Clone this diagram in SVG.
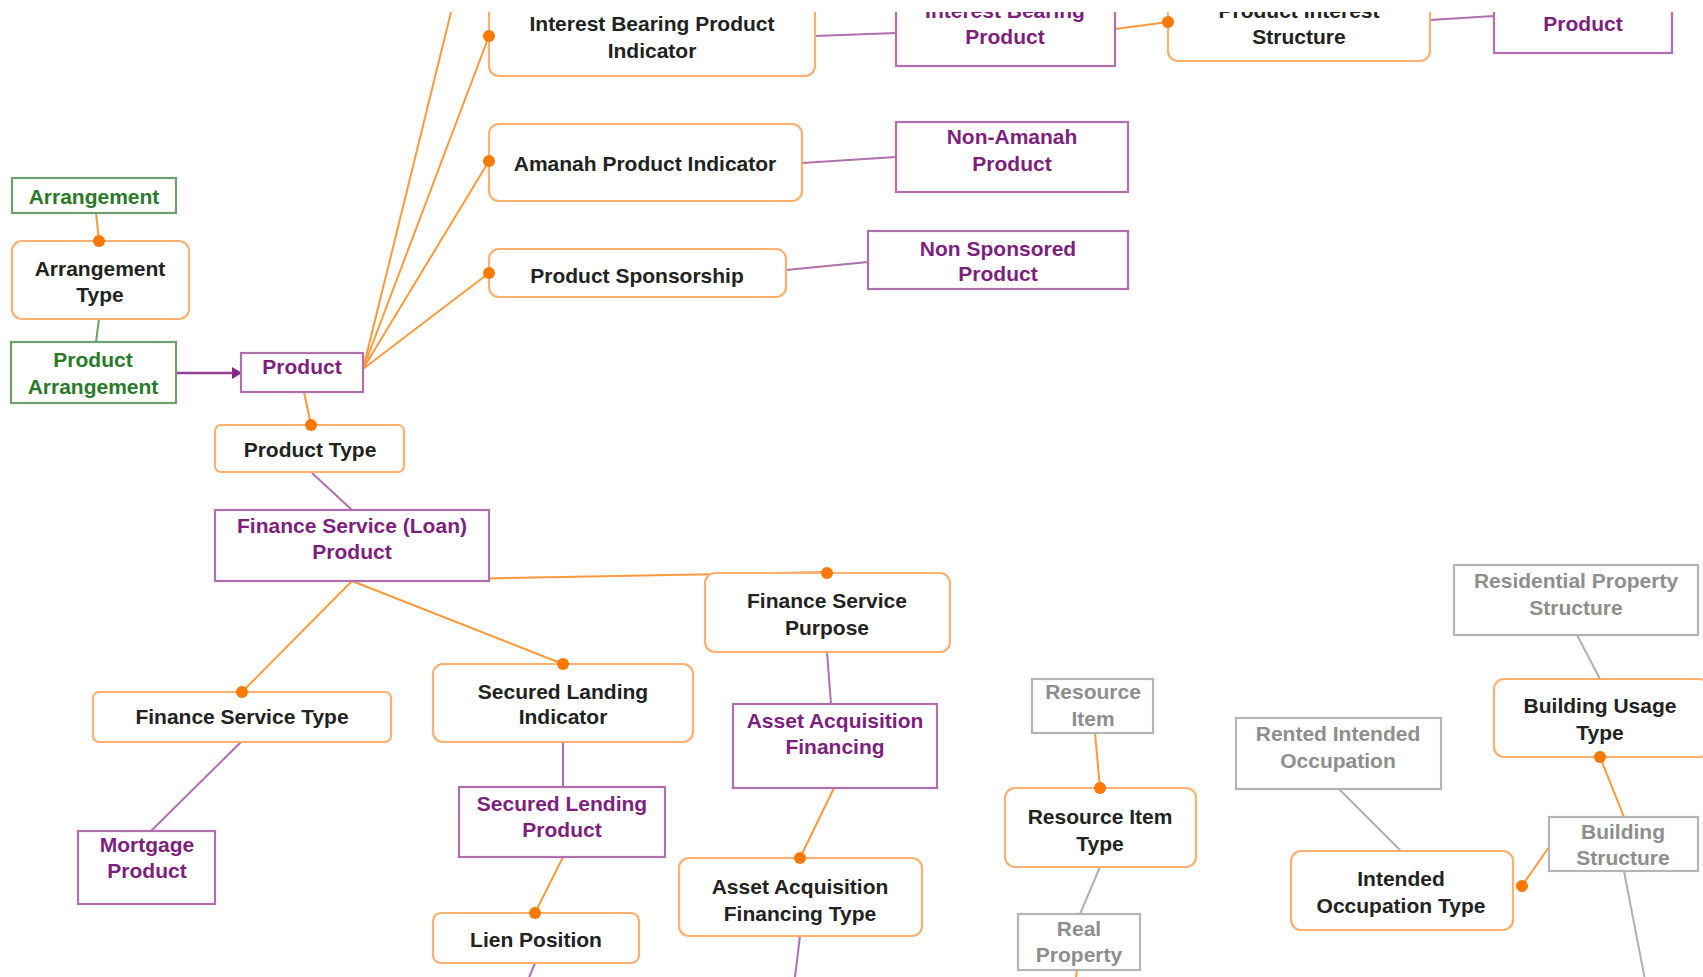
<svg xmlns="http://www.w3.org/2000/svg" width="1703" height="977" viewBox="0 0 1703 977">
  <style>
    text { font-family: "Liberation Sans", Arial, sans-serif; font-size: 21px; font-weight: bold; text-anchor: middle; }
    .t-black { fill: #222222; }
    .t-purple { fill: #7e1f7e; }
    .t-green { fill: #2a7a2a; }
    .t-gray { fill: #8e8e8e; }
    .box-orange { fill: #ffffff; stroke: #ffb070; stroke-width: 2.2; }
    .box-purple { fill: #ffffff; stroke: #b070b0; stroke-width: 2.2; }
    .box-green { fill: #ffffff; stroke: #6f9f6f; stroke-width: 2.2; }
    .box-gray { fill: #ffffff; stroke: #b4b4b4; stroke-width: 2.2; }
    .c-orange { stroke: #ff9a3c; stroke-width: 2; fill: none; }
    .c-purple { stroke: #b070b0; stroke-width: 2; fill: none; }
    .c-gray { stroke: #b0b0b0; stroke-width: 2; fill: none; }
    .c-green { stroke: #6f9f6f; stroke-width: 2; fill: none; }
    .c-link { stroke: #983f98; stroke-width: 2.4; fill: none; }
    .dot { fill: #ff7800; }
  </style>
  <defs>
    <clipPath id="view">
      <rect x="0" y="12" width="1703" height="965"/>
    </clipPath>
    <marker id="arrow" viewBox="0 0 10 12" refX="8" refY="6" markerWidth="10" markerHeight="12" markerUnits="userSpaceOnUse" orient="auto">
      <path d="M0,0 L10,6 L0,12 z" fill="#86288a"/>
    </marker>
  </defs>
  <rect x="0" y="0" width="1703" height="977" fill="#ffffff"/>
  <g clip-path="url(#view)">
    <!-- connectors -->
    <g id="connectors">
      <line class="c-orange" x1="363" y1="369" x2="454" y2="0"/>
      <line class="c-orange" x1="363" y1="369" x2="489" y2="36"/>
      <line class="c-orange" x1="363" y1="369" x2="489" y2="161"/>
      <line class="c-orange" x1="363" y1="369" x2="489" y2="273"/>
      <line class="c-purple" x1="815" y1="36" x2="896" y2="33"/>
      <line class="c-orange" x1="1115" y1="29" x2="1168" y2="22"/>
      <line class="c-purple" x1="1430" y1="20" x2="1494" y2="16"/>
      <line class="c-purple" x1="802" y1="163" x2="896" y2="157"/>
      <line class="c-purple" x1="786" y1="270" x2="868" y2="262"/>
      <line class="c-orange" x1="96" y1="213" x2="99" y2="241"/>
      <line class="c-green" x1="99" y1="319" x2="96" y2="342"/>
      <line class="c-link" x1="176" y1="373" x2="240" y2="373" marker-end="url(#arrow)"/>
      <line class="c-orange" x1="304" y1="392" x2="311" y2="425"/>
      <line class="c-purple" x1="312" y1="473" x2="352" y2="510"/>
      <line class="c-orange" x1="352" y1="581" x2="827" y2="572"/>
      <line class="c-orange" x1="352" y1="581" x2="242" y2="692"/>
      <line class="c-orange" x1="352" y1="581" x2="563" y2="664"/>
      <line class="c-purple" x1="241" y1="742" x2="151" y2="831"/>
      <line class="c-purple" x1="563" y1="742" x2="563" y2="787"/>
      <line class="c-orange" x1="563" y1="857" x2="535" y2="913"/>
      <line class="c-purple" x1="535" y1="963" x2="526" y2="985"/>
      <line class="c-purple" x1="827" y1="652" x2="831" y2="704"/>
      <line class="c-orange" x1="834" y1="788" x2="800" y2="858"/>
      <line class="c-purple" x1="800" y1="936" x2="794" y2="985"/>
      <line class="c-orange" x1="1095" y1="733" x2="1100" y2="788"/>
      <line class="c-gray" x1="1100" y1="867" x2="1080" y2="914"/>
      <line class="c-orange" x1="1077" y1="970" x2="1075" y2="985"/>
      <line class="c-gray" x1="1577" y1="635" x2="1600" y2="679"/>
      <line class="c-orange" x1="1600" y1="757" x2="1624" y2="817"/>
      <line class="c-orange" x1="1549" y1="847" x2="1522" y2="886"/>
      <line class="c-gray" x1="1339" y1="789" x2="1401" y2="851"/>
      <line class="c-gray" x1="1624" y1="871" x2="1646" y2="985"/>
    </g>

    <!-- nodes -->
    <g id="interest-bearing-product-indicator">
      <rect class="box-orange" x="489" y="-10" width="326" height="86" rx="10"/>
      <text class="t-black" x="652" y="31">Interest Bearing Product</text>
      <text class="t-black" x="652" y="58">Indicator</text>
    </g>
    <g id="interest-bearing-product">
      <rect class="box-purple" x="896" y="-10" width="219" height="76"/>
      <text class="t-purple" x="1005" y="18">Interest Bearing</text>
      <text class="t-purple" x="1005" y="44">Product</text>
    </g>
    <g id="product-interest-structure">
      <rect class="box-orange" x="1168" y="-10" width="262" height="71" rx="10"/>
      <text class="t-black" x="1299" y="18">Product Interest</text>
      <text class="t-black" x="1299" y="44">Structure</text>
    </g>
    <g id="product-top-right">
      <rect class="box-purple" x="1494" y="-10" width="178" height="63"/>
      <text class="t-purple" x="1583" y="31">Product</text>
    </g>
    <g id="amanah-product-indicator">
      <rect class="box-orange" x="489" y="124" width="313" height="77" rx="10"/>
      <text class="t-black" x="645" y="171">Amanah Product Indicator</text>
    </g>
    <g id="non-amanah-product">
      <rect class="box-purple" x="896" y="122" width="232" height="70"/>
      <text class="t-purple" x="1012" y="144">Non-Amanah</text>
      <text class="t-purple" x="1012" y="171">Product</text>
    </g>
    <g id="product-sponsorship">
      <rect class="box-orange" x="489" y="249" width="297" height="48" rx="10"/>
      <text class="t-black" x="637" y="283">Product Sponsorship</text>
    </g>
    <g id="non-sponsored-product">
      <rect class="box-purple" x="868" y="231" width="260" height="58"/>
      <text class="t-purple" x="998" y="256">Non Sponsored</text>
      <text class="t-purple" x="998" y="281">Product</text>
    </g>
    <g id="arrangement">
      <rect class="box-green" x="12" y="178" width="164" height="35"/>
      <text class="t-green" x="94" y="204">Arrangement</text>
    </g>
    <g id="arrangement-type">
      <rect class="box-orange" x="12" y="241" width="177" height="78" rx="10"/>
      <text class="t-black" x="100" y="276">Arrangement</text>
      <text class="t-black" x="100" y="302">Type</text>
    </g>
    <g id="product-arrangement">
      <rect class="box-green" x="11" y="342" width="165" height="61"/>
      <text class="t-green" x="93" y="367">Product</text>
      <text class="t-green" x="93" y="394">Arrangement</text>
    </g>
    <g id="product">
      <rect class="box-purple" x="241" y="353" width="122" height="39"/>
      <text class="t-purple" x="302" y="374">Product</text>
    </g>
    <g id="product-type">
      <rect class="box-orange" x="215" y="425" width="189" height="47" rx="6"/>
      <text class="t-black" x="310" y="457">Product Type</text>
    </g>
    <g id="finance-service-loan-product">
      <rect class="box-purple" x="215" y="510" width="274" height="71"/>
      <text class="t-purple" x="352" y="533">Finance Service (Loan)</text>
      <text class="t-purple" x="352" y="559">Product</text>
    </g>
    <g id="finance-service-purpose">
      <rect class="box-orange" x="705" y="573" width="245" height="79" rx="10"/>
      <text class="t-black" x="827" y="608">Finance Service</text>
      <text class="t-black" x="827" y="635">Purpose</text>
    </g>
    <g id="finance-service-type">
      <rect class="box-orange" x="93" y="692" width="298" height="50" rx="6"/>
      <text class="t-black" x="242" y="724">Finance Service Type</text>
    </g>
    <g id="mortgage-product">
      <rect class="box-purple" x="78" y="831" width="137" height="73"/>
      <text class="t-purple" x="147" y="852">Mortgage</text>
      <text class="t-purple" x="147" y="878">Product</text>
    </g>
    <g id="secured-landing-indicator">
      <rect class="box-orange" x="433" y="664" width="260" height="78" rx="10"/>
      <text class="t-black" x="563" y="699">Secured Landing</text>
      <text class="t-black" x="563" y="724">Indicator</text>
    </g>
    <g id="secured-lending-product">
      <rect class="box-purple" x="459" y="787" width="206" height="70"/>
      <text class="t-purple" x="562" y="811">Secured Lending</text>
      <text class="t-purple" x="562" y="837">Product</text>
    </g>
    <g id="lien-position">
      <rect class="box-orange" x="433" y="913" width="206" height="50" rx="8"/>
      <text class="t-black" x="536" y="947">Lien Position</text>
    </g>
    <g id="asset-acquisition-financing">
      <rect class="box-purple" x="733" y="704" width="204" height="84"/>
      <text class="t-purple" x="835" y="728">Asset Acquisition</text>
      <text class="t-purple" x="835" y="754">Financing</text>
    </g>
    <g id="asset-acquisition-financing-type">
      <rect class="box-orange" x="679" y="858" width="243" height="78" rx="10"/>
      <text class="t-black" x="800" y="894">Asset Acquisition</text>
      <text class="t-black" x="800" y="921">Financing Type</text>
    </g>
    <g id="resource-item">
      <rect class="box-gray" x="1032" y="679" width="121" height="54"/>
      <text class="t-gray" x="1093" y="699">Resource</text>
      <text class="t-gray" x="1093" y="726">Item</text>
    </g>
    <g id="resource-item-type">
      <rect class="box-orange" x="1005" y="788" width="191" height="79" rx="10"/>
      <text class="t-black" x="1100" y="824">Resource Item</text>
      <text class="t-black" x="1100" y="851">Type</text>
    </g>
    <g id="real-property">
      <rect class="box-gray" x="1018" y="914" width="122" height="56"/>
      <text class="t-gray" x="1079" y="936">Real</text>
      <text class="t-gray" x="1079" y="962">Property</text>
    </g>
    <g id="residential-property-structure">
      <rect class="box-gray" x="1454" y="565" width="244" height="70"/>
      <text class="t-gray" x="1576" y="588">Residential Property</text>
      <text class="t-gray" x="1576" y="615">Structure</text>
    </g>
    <g id="building-usage-type">
      <rect class="box-orange" x="1494" y="679" width="215" height="78" rx="10"/>
      <text class="t-black" x="1600" y="713">Building Usage</text>
      <text class="t-black" x="1600" y="740">Type</text>
    </g>
    <g id="building-structure">
      <rect class="box-gray" x="1549" y="817" width="149" height="54"/>
      <text class="t-gray" x="1623" y="839">Building</text>
      <text class="t-gray" x="1623" y="865">Structure</text>
    </g>
    <g id="rented-intended-occupation">
      <rect class="box-gray" x="1236" y="718" width="205" height="71"/>
      <text class="t-gray" x="1338" y="741">Rented Intended</text>
      <text class="t-gray" x="1338" y="768">Occupation</text>
    </g>
    <g id="intended-occupation-type">
      <rect class="box-orange" x="1291" y="851" width="222" height="79" rx="10"/>
      <text class="t-black" x="1401" y="886">Intended</text>
      <text class="t-black" x="1401" y="913">Occupation Type</text>
    </g>

    <!-- connection points -->
    <g id="ports">
      <circle class="dot" cx="489" cy="36" r="6"/>
      <circle class="dot" cx="489" cy="161" r="6"/>
      <circle class="dot" cx="489" cy="273" r="6"/>
      <circle class="dot" cx="1168" cy="22" r="6"/>
      <circle class="dot" cx="99" cy="241" r="6"/>
      <circle class="dot" cx="311" cy="425" r="6"/>
      <circle class="dot" cx="827" cy="573" r="6"/>
      <circle class="dot" cx="242" cy="692" r="6"/>
      <circle class="dot" cx="563" cy="664" r="6"/>
      <circle class="dot" cx="535" cy="913" r="6"/>
      <circle class="dot" cx="800" cy="858" r="6"/>
      <circle class="dot" cx="1100" cy="788" r="6"/>
      <circle class="dot" cx="1600" cy="757" r="6"/>
      <circle class="dot" cx="1522" cy="886" r="6"/>
    </g>
  </g>
</svg>
